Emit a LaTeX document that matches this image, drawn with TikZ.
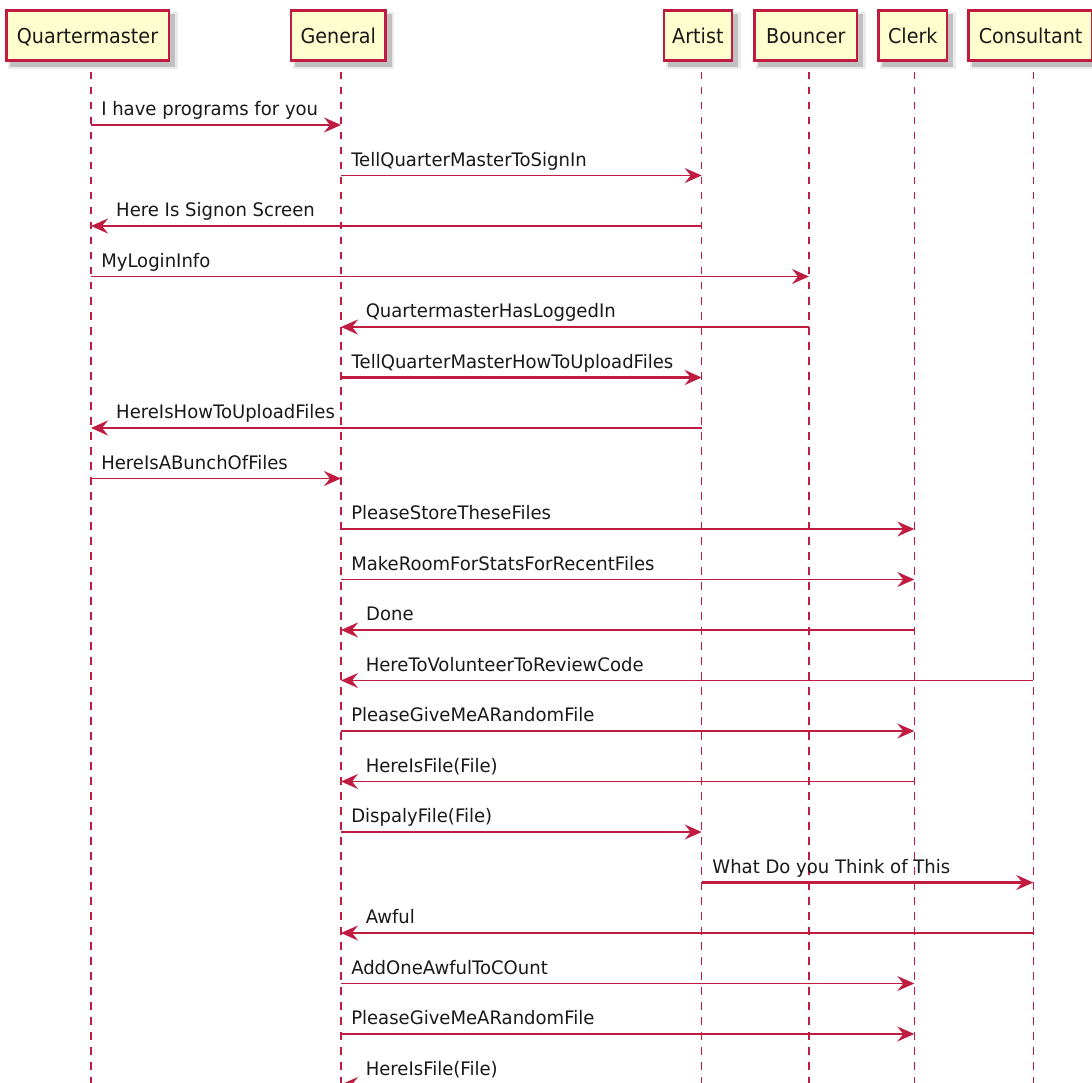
\documentclass[tikz,border=0pt]{standalone}
\usepackage{fontspec}
\setmainfont{DejaVu Sans}[FakeStretch=0.97]
\newfontfamily\hdrfont{DejaVu Sans}[FakeStretch=0.935]
\usetikzlibrary{arrows.meta}
\definecolor{crim}{RGB}{192,28,66}
\definecolor{boxfill}{HTML}{FEFECE}
\tikzset{
  part/.style={draw=crim, line width=2.5pt, fill=boxfill, minimum height=50pt,
     inner sep=0pt, text height=19pt, text depth=3.4pt,
     font=\hdrfont\fontsize{20.5}{24}\selectfont, text=black!90},
  shadowbox/.style={fill=black, opacity=0.18},
  life/.style={draw=crim, line width=1.5pt, dash pattern=on 7.5pt off 7.5pt},
  msg/.style={draw=crim, line width=1.5pt, -{Stealth[length=17pt,width=15pt,inset=6pt]}},
  thickmsg/.style={line width=2.4pt},
  lbl/.style={font=\fontsize{18.6}{22}\selectfont, text=black!90, inner sep=0pt, anchor=base west, yshift=9.3pt},
}
\newcommand\msgR[5]{\draw[msg,#5] (#1 |- 0,#3) -- (#2 |- 0,#3) node[lbl,pos=0,xshift=9.5pt] {#4};}
\newcommand\msgL[5]{\draw[msg,#5] (#1 |- 0,#3) -- (#2 |- 0,#3) node[lbl,pos=1,xshift=24pt] {#4};}
\begin{document}
\begin{tikzpicture}[x=1pt,y=-1pt]
\useasboundingbox (0,0) rectangle (1092,1083);
\clip (0,0) rectangle (1092,1083);
\fill[white] (0,0) rectangle (1092,1083);
% shadows
\foreach \l/\r in {5/170, 290/386.7, 662.7/733, 753.3/858.3, 877.3/948.3, 967.3/1094}{
  \fill[shadowbox] (\l+5,14.5) rectangle (\r+5,67);
  \fill[black, opacity=0.08] (\l+3,12) rectangle (\r+7.5,69.5);
}
% participants
\node[part, minimum width=162.5pt] (Qbox) at (87.5,35.6) {Quartermaster};
\node[part, minimum width=94.2pt] (Gbox) at (338.3,35.6) {General};
\node[part, minimum width=67.8pt] (Abox) at (697.9,35.6) {Artist};
\node[part, minimum width=102.5pt] (Bbox) at (805.8,35.6) {Bouncer};
\node[part, minimum width=68.5pt] (Cbox) at (912.8,35.6) {Clerk};
\node[part, minimum width=124.2pt] (Nbox) at (1030.6,35.6) {Consultant};
% lifeline tops
\coordinate (q) at (91,72);
\coordinate (g) at (341,72);
\coordinate (a) at (701.7,72);
\coordinate (b) at (809,72);
\coordinate (c) at (914.3,72);
\coordinate (n) at (1033.3,72);
\foreach \p in {q,g,a,b,c,n}{ \draw[life] (\p) -- (\p |- 0,1095); }
% messages
\msgR{q}{g}{125}{I have programs for you}{}
\msgR{g}{a}{175.5}{TellQuarterMasterToSignIn}{}
\msgL{a}{q}{226}{Here Is Signon Screen}{thickmsg}
\msgR{q}{b}{276.5}{MyLoginInfo}{}
\msgL{b}{g}{327}{QuartermasterHasLoggedIn}{}
\msgR{g}{a}{377.5}{TellQuarterMasterHowToUploadFiles}{thickmsg}
\msgL{a}{q}{428}{HereIsHowToUploadFiles}{thickmsg}
\msgR{q}{g}{478.5}{HereIsABunchOfFiles}{}
\msgR{g}{c}{529}{PleaseStoreTheseFiles}{}
\msgR{g}{c}{579.5}{MakeRoomForStatsForRecentFiles}{}
\msgL{c}{g}{630}{Done}{thickmsg}
\msgL{n}{g}{680.5}{HereToVolunteerToReviewCode}{}
\msgR{g}{c}{731}{PleaseGiveMeARandomFile}{}
\msgL{c}{g}{781.5}{HereIsFile(File)}{}
\msgR{g}{a}{832}{DispalyFile(File)}{}
\msgR{a}{n}{882.5}{What Do you Think of This}{thickmsg}
\msgL{n}{g}{933}{Awful}{}
\msgR{g}{c}{983.5}{AddOneAwfulToCOunt}{}
\msgR{g}{c}{1034}{PleaseGiveMeARandomFile}{}
\msgL{c}{g}{1084.5}{HereIsFile(File)}{}
\end{tikzpicture}
\end{document}
